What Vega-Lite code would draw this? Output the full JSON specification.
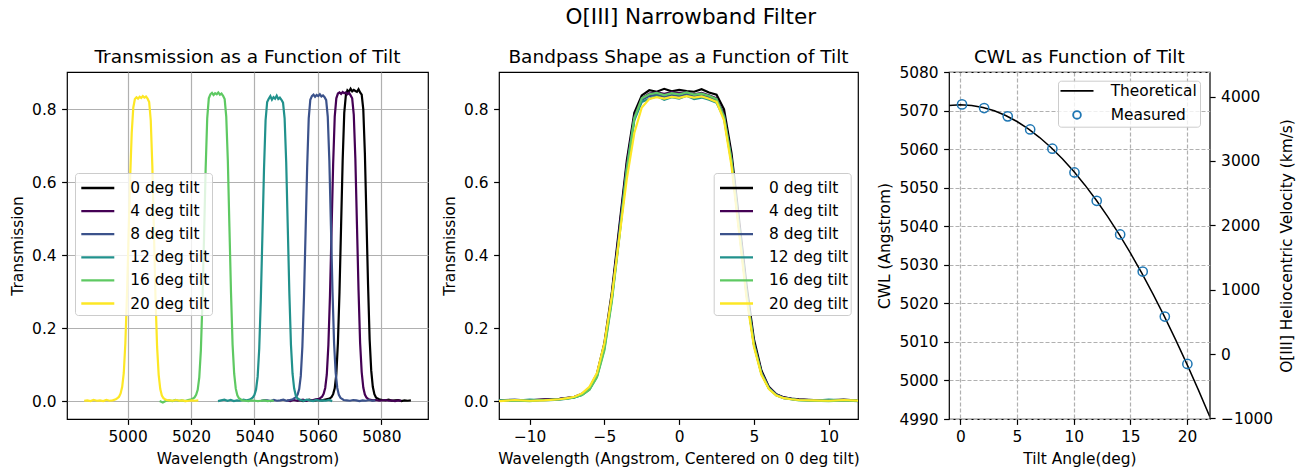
{
"$schema": "https://vega.github.io/schema/vega-lite/v6.json",
"title": {"text": "O[III] Narrowband Filter", "fontSize": 21.5, "anchor": "middle", "offset": 18, "dx": 38, "frame": "bounds"},
"padding": {"left": 10, "top": 7, "right": 5, "bottom": 3},
"bounds": "flush",
"spacing": 30,
"resolve": {"scale": {"color": "independent"}, "legend": {"color": "independent"}},
"datasets": {
"curves": [
{"s":"0 deg tilt","d":-18,"w":5053.3,"t":0.002},{"s":"0 deg tilt","d":-17,"w":5054.3,"t":0.004},{"s":"0 deg tilt","d":-16,"w":5055.3,"t":0.001},{"s":"0 deg tilt","d":-15,"w":5056.3,"t":0.003},{"s":"0 deg tilt","d":-14,"w":5057.3,"t":0.005},{"s":"0 deg tilt","d":-13,"w":5058.3,"t":0.002},{"s":"0 deg tilt","d":-12,"w":5059.3,"t":0.003},{"s":"0 deg tilt","d":-11,"w":5060.3,"t":0.004},{"s":"0 deg tilt","d":-10,"w":5061.3,"t":0.003},{"s":"0 deg tilt","d":-9,"w":5062.3,"t":0.005},{"s":"0 deg tilt","d":-8,"w":5063.3,"t":0.007},{"s":"0 deg tilt","d":-7.5,"w":5063.8,"t":0.009},{"s":"0 deg tilt","d":-7,"w":5064.3,"t":0.012},{"s":"0 deg tilt","d":-6.5,"w":5064.8,"t":0.020},{"s":"0 deg tilt","d":-6,"w":5065.3,"t":0.036},{"s":"0 deg tilt","d":-5.5,"w":5065.8,"t":0.075},{"s":"0 deg tilt","d":-5,"w":5066.3,"t":0.16},{"s":"0 deg tilt","d":-4.5,"w":5066.8,"t":0.30},{"s":"0 deg tilt","d":-4,"w":5067.3,"t":0.48},{"s":"0 deg tilt","d":-3.5,"w":5067.8,"t":0.66},{"s":"0 deg tilt","d":-3,"w":5068.3,"t":0.79},{"s":"0 deg tilt","d":-2.5,"w":5068.8,"t":0.838},{"s":"0 deg tilt","d":-2,"w":5069.3,"t":0.852},{"s":"0 deg tilt","d":-1.5,"w":5069.8,"t":0.848},{"s":"0 deg tilt","d":-1,"w":5070.3,"t":0.856},{"s":"0 deg tilt","d":-0.5,"w":5070.8,"t":0.849},{"s":"0 deg tilt","d":0,"w":5071.3,"t":0.853},{"s":"0 deg tilt","d":0.5,"w":5071.8,"t":0.850},{"s":"0 deg tilt","d":1,"w":5072.3,"t":0.848},{"s":"0 deg tilt","d":1.5,"w":5072.8,"t":0.855},{"s":"0 deg tilt","d":2,"w":5073.3,"t":0.846},{"s":"0 deg tilt","d":2.5,"w":5073.8,"t":0.840},{"s":"0 deg tilt","d":3,"w":5074.3,"t":0.80},{"s":"0 deg tilt","d":3.5,"w":5074.8,"t":0.68},{"s":"0 deg tilt","d":4,"w":5075.3,"t":0.50},{"s":"0 deg tilt","d":4.5,"w":5075.8,"t":0.32},{"s":"0 deg tilt","d":5,"w":5076.3,"t":0.17},{"s":"0 deg tilt","d":5.5,"w":5076.8,"t":0.085},{"s":"0 deg tilt","d":6,"w":5077.3,"t":0.040},{"s":"0 deg tilt","d":6.5,"w":5077.8,"t":0.020},{"s":"0 deg tilt","d":7,"w":5078.3,"t":0.011},{"s":"0 deg tilt","d":7.5,"w":5078.8,"t":0.008},{"s":"0 deg tilt","d":8,"w":5079.3,"t":0.006},{"s":"0 deg tilt","d":9,"w":5080.3,"t":0.004},{"s":"0 deg tilt","d":10,"w":5081.3,"t":0.003},{"s":"0 deg tilt","d":11,"w":5082.3,"t":0.005},{"s":"0 deg tilt","d":12,"w":5083.3,"t":0.002},{"s":"0 deg tilt","d":13,"w":5084.3,"t":0.003},{"s":"0 deg tilt","d":14,"w":5085.3,"t":0.004},{"s":"0 deg tilt","d":15,"w":5086.3,"t":0.001},{"s":"0 deg tilt","d":16,"w":5087.3,"t":0.003},{"s":"0 deg tilt","d":17,"w":5088.3,"t":0.002},{"s":"0 deg tilt","d":18,"w":5089.3,"t":0.003},
{"s":"4 deg tilt","d":-18,"w":5050.3,"t":0.003},{"s":"4 deg tilt","d":-17,"w":5051.3,"t":0.001},{"s":"4 deg tilt","d":-16,"w":5052.3,"t":0.004},{"s":"4 deg tilt","d":-15,"w":5053.3,"t":0.002},{"s":"4 deg tilt","d":-14,"w":5054.3,"t":0.003},{"s":"4 deg tilt","d":-13,"w":5055.3,"t":0.005},{"s":"4 deg tilt","d":-12,"w":5056.3,"t":0.002},{"s":"4 deg tilt","d":-11,"w":5057.3,"t":0.004},{"s":"4 deg tilt","d":-10,"w":5058.3,"t":0.003},{"s":"4 deg tilt","d":-9,"w":5059.3,"t":0.006},{"s":"4 deg tilt","d":-8,"w":5060.3,"t":0.007},{"s":"4 deg tilt","d":-7.5,"w":5060.8,"t":0.010},{"s":"4 deg tilt","d":-7,"w":5061.3,"t":0.013},{"s":"4 deg tilt","d":-6.5,"w":5061.8,"t":0.021},{"s":"4 deg tilt","d":-6,"w":5062.3,"t":0.037},{"s":"4 deg tilt","d":-5.5,"w":5062.8,"t":0.074},{"s":"4 deg tilt","d":-5,"w":5063.3,"t":0.155},{"s":"4 deg tilt","d":-4.5,"w":5063.8,"t":0.29},{"s":"4 deg tilt","d":-4,"w":5064.3,"t":0.47},{"s":"4 deg tilt","d":-3.5,"w":5064.8,"t":0.65},{"s":"4 deg tilt","d":-3,"w":5065.3,"t":0.78},{"s":"4 deg tilt","d":-2.5,"w":5065.8,"t":0.83},{"s":"4 deg tilt","d":-2,"w":5066.3,"t":0.843},{"s":"4 deg tilt","d":-1.5,"w":5066.8,"t":0.846},{"s":"4 deg tilt","d":-1,"w":5067.3,"t":0.842},{"s":"4 deg tilt","d":-0.5,"w":5067.8,"t":0.847},{"s":"4 deg tilt","d":0,"w":5068.3,"t":0.844},{"s":"4 deg tilt","d":0.5,"w":5068.8,"t":0.846},{"s":"4 deg tilt","d":1,"w":5069.3,"t":0.841},{"s":"4 deg tilt","d":1.5,"w":5069.8,"t":0.845},{"s":"4 deg tilt","d":2,"w":5070.3,"t":0.838},{"s":"4 deg tilt","d":2.5,"w":5070.8,"t":0.83},{"s":"4 deg tilt","d":3,"w":5071.3,"t":0.785},{"s":"4 deg tilt","d":3.5,"w":5071.8,"t":0.665},{"s":"4 deg tilt","d":4,"w":5072.3,"t":0.485},{"s":"4 deg tilt","d":4.5,"w":5072.8,"t":0.305},{"s":"4 deg tilt","d":5,"w":5073.3,"t":0.16},{"s":"4 deg tilt","d":5.5,"w":5073.8,"t":0.08},{"s":"4 deg tilt","d":6,"w":5074.3,"t":0.038},{"s":"4 deg tilt","d":6.5,"w":5074.8,"t":0.019},{"s":"4 deg tilt","d":7,"w":5075.3,"t":0.011},{"s":"4 deg tilt","d":7.5,"w":5075.8,"t":0.007},{"s":"4 deg tilt","d":8,"w":5076.3,"t":0.005},{"s":"4 deg tilt","d":9,"w":5077.3,"t":0.003},{"s":"4 deg tilt","d":10,"w":5078.3,"t":0.004},{"s":"4 deg tilt","d":11,"w":5079.3,"t":0.002},{"s":"4 deg tilt","d":12,"w":5080.3,"t":0.003},{"s":"4 deg tilt","d":13,"w":5081.3,"t":0.004},{"s":"4 deg tilt","d":14,"w":5082.3,"t":0.002},{"s":"4 deg tilt","d":15,"w":5083.3,"t":0.003},{"s":"4 deg tilt","d":16,"w":5084.3,"t":0.001},{"s":"4 deg tilt","d":17,"w":5085.3,"t":0.003},{"s":"4 deg tilt","d":18,"w":5086.3,"t":0.002},
{"s":"8 deg tilt","d":-18,"w":5042.1,"t":0.002},{"s":"8 deg tilt","d":-17,"w":5043.1,"t":0.004},{"s":"8 deg tilt","d":-16,"w":5044.1,"t":0.003},{"s":"8 deg tilt","d":-15,"w":5045.1,"t":0.001},{"s":"8 deg tilt","d":-14,"w":5046.1,"t":0.004},{"s":"8 deg tilt","d":-13,"w":5047.1,"t":0.002},{"s":"8 deg tilt","d":-12,"w":5048.1,"t":0.003},{"s":"8 deg tilt","d":-11,"w":5049.1,"t":0.005},{"s":"8 deg tilt","d":-10,"w":5050.1,"t":0.002},{"s":"8 deg tilt","d":-9,"w":5051.1,"t":0.004},{"s":"8 deg tilt","d":-8,"w":5052.1,"t":0.006},{"s":"8 deg tilt","d":-7.5,"w":5052.6,"t":0.009},{"s":"8 deg tilt","d":-7,"w":5053.1,"t":0.012},{"s":"8 deg tilt","d":-6.5,"w":5053.6,"t":0.019},{"s":"8 deg tilt","d":-6,"w":5054.1,"t":0.034},{"s":"8 deg tilt","d":-5.5,"w":5054.6,"t":0.07},{"s":"8 deg tilt","d":-5,"w":5055.1,"t":0.15},{"s":"8 deg tilt","d":-4.5,"w":5055.6,"t":0.285},{"s":"8 deg tilt","d":-4,"w":5056.1,"t":0.46},{"s":"8 deg tilt","d":-3.5,"w":5056.6,"t":0.64},{"s":"8 deg tilt","d":-3,"w":5057.1,"t":0.775},{"s":"8 deg tilt","d":-2.5,"w":5057.6,"t":0.826},{"s":"8 deg tilt","d":-2,"w":5058.1,"t":0.836},{"s":"8 deg tilt","d":-1.5,"w":5058.6,"t":0.840},{"s":"8 deg tilt","d":-1,"w":5059.1,"t":0.834},{"s":"8 deg tilt","d":-0.5,"w":5059.6,"t":0.839},{"s":"8 deg tilt","d":0,"w":5060.1,"t":0.836},{"s":"8 deg tilt","d":0.5,"w":5060.6,"t":0.841},{"s":"8 deg tilt","d":1,"w":5061.1,"t":0.835},{"s":"8 deg tilt","d":1.5,"w":5061.6,"t":0.838},{"s":"8 deg tilt","d":2,"w":5062.1,"t":0.833},{"s":"8 deg tilt","d":2.5,"w":5062.6,"t":0.825},{"s":"8 deg tilt","d":3,"w":5063.1,"t":0.78},{"s":"8 deg tilt","d":3.5,"w":5063.6,"t":0.66},{"s":"8 deg tilt","d":4,"w":5064.1,"t":0.48},{"s":"8 deg tilt","d":4.5,"w":5064.6,"t":0.30},{"s":"8 deg tilt","d":5,"w":5065.1,"t":0.158},{"s":"8 deg tilt","d":5.5,"w":5065.6,"t":0.078},{"s":"8 deg tilt","d":6,"w":5066.1,"t":0.037},{"s":"8 deg tilt","d":6.5,"w":5066.6,"t":0.018},{"s":"8 deg tilt","d":7,"w":5067.1,"t":0.010},{"s":"8 deg tilt","d":7.5,"w":5067.6,"t":0.007},{"s":"8 deg tilt","d":8,"w":5068.1,"t":0.004},{"s":"8 deg tilt","d":9,"w":5069.1,"t":0.003},{"s":"8 deg tilt","d":10,"w":5070.1,"t":0.002},{"s":"8 deg tilt","d":11,"w":5071.1,"t":0.004},{"s":"8 deg tilt","d":12,"w":5072.1,"t":0.003},{"s":"8 deg tilt","d":13,"w":5073.1,"t":0.001},{"s":"8 deg tilt","d":14,"w":5074.1,"t":0.003},{"s":"8 deg tilt","d":15,"w":5075.1,"t":0.002},{"s":"8 deg tilt","d":16,"w":5076.1,"t":0.004},{"s":"8 deg tilt","d":17,"w":5077.1,"t":0.002},{"s":"8 deg tilt","d":18,"w":5078.1,"t":0.003},
{"s":"12 deg tilt","d":-18,"w":5028.5,"t":0.001},{"s":"12 deg tilt","d":-17,"w":5029.5,"t":0.003},{"s":"12 deg tilt","d":-16,"w":5030.5,"t":0.005},{"s":"12 deg tilt","d":-15,"w":5031.5,"t":0.002},{"s":"12 deg tilt","d":-14,"w":5032.5,"t":0.004},{"s":"12 deg tilt","d":-13,"w":5033.5,"t":0.001},{"s":"12 deg tilt","d":-12,"w":5034.5,"t":0.003},{"s":"12 deg tilt","d":-11,"w":5035.5,"t":0.002},{"s":"12 deg tilt","d":-10,"w":5036.5,"t":0.005},{"s":"12 deg tilt","d":-9,"w":5037.5,"t":0.003},{"s":"12 deg tilt","d":-8,"w":5038.5,"t":0.005},{"s":"12 deg tilt","d":-7.5,"w":5039,"t":0.008},{"s":"12 deg tilt","d":-7,"w":5039.5,"t":0.011},{"s":"12 deg tilt","d":-6.5,"w":5040,"t":0.018},{"s":"12 deg tilt","d":-6,"w":5040.5,"t":0.033},{"s":"12 deg tilt","d":-5.5,"w":5041,"t":0.068},{"s":"12 deg tilt","d":-5,"w":5041.5,"t":0.145},{"s":"12 deg tilt","d":-4.5,"w":5042,"t":0.28},{"s":"12 deg tilt","d":-4,"w":5042.5,"t":0.455},{"s":"12 deg tilt","d":-3.5,"w":5043,"t":0.635},{"s":"12 deg tilt","d":-3,"w":5043.5,"t":0.77},{"s":"12 deg tilt","d":-2.5,"w":5044,"t":0.82},{"s":"12 deg tilt","d":-2,"w":5044.5,"t":0.829},{"s":"12 deg tilt","d":-1.5,"w":5045,"t":0.836},{"s":"12 deg tilt","d":-1,"w":5045.5,"t":0.826},{"s":"12 deg tilt","d":-0.5,"w":5046,"t":0.833},{"s":"12 deg tilt","d":0,"w":5046.5,"t":0.829},{"s":"12 deg tilt","d":0.5,"w":5047,"t":0.837},{"s":"12 deg tilt","d":1,"w":5047.5,"t":0.828},{"s":"12 deg tilt","d":1.5,"w":5048,"t":0.832},{"s":"12 deg tilt","d":2,"w":5048.5,"t":0.826},{"s":"12 deg tilt","d":2.5,"w":5049,"t":0.818},{"s":"12 deg tilt","d":3,"w":5049.5,"t":0.775},{"s":"12 deg tilt","d":3.5,"w":5050,"t":0.655},{"s":"12 deg tilt","d":4,"w":5050.5,"t":0.475},{"s":"12 deg tilt","d":4.5,"w":5051,"t":0.295},{"s":"12 deg tilt","d":5,"w":5051.5,"t":0.155},{"s":"12 deg tilt","d":5.5,"w":5052,"t":0.076},{"s":"12 deg tilt","d":6,"w":5052.5,"t":0.036},{"s":"12 deg tilt","d":6.5,"w":5053,"t":0.017},{"s":"12 deg tilt","d":7,"w":5053.5,"t":0.009},{"s":"12 deg tilt","d":7.5,"w":5054,"t":0.006},{"s":"12 deg tilt","d":8,"w":5054.5,"t":0.004},{"s":"12 deg tilt","d":9,"w":5055.5,"t":0.002},{"s":"12 deg tilt","d":10,"w":5056.5,"t":0.005},{"s":"12 deg tilt","d":11,"w":5057.5,"t":0.003},{"s":"12 deg tilt","d":12,"w":5058.5,"t":0.001},{"s":"12 deg tilt","d":13,"w":5059.5,"t":0.004},{"s":"12 deg tilt","d":14,"w":5060.5,"t":0.002},{"s":"12 deg tilt","d":15,"w":5061.5,"t":0.003},{"s":"12 deg tilt","d":16,"w":5062.5,"t":0.002},{"s":"12 deg tilt","d":17,"w":5063.5,"t":0.004},{"s":"12 deg tilt","d":18,"w":5064.5,"t":0.001},
{"s":"16 deg tilt","d":-18,"w":5010.1,"t":0.001},{"s":"16 deg tilt","d":-17,"w":5011.1,"t":-0.003},{"s":"16 deg tilt","d":-16,"w":5012.1,"t":0.002},{"s":"16 deg tilt","d":-15,"w":5013.1,"t":0.003},{"s":"16 deg tilt","d":-14,"w":5014.1,"t":0.001},{"s":"16 deg tilt","d":-13,"w":5015.1,"t":0.004},{"s":"16 deg tilt","d":-12,"w":5016.1,"t":0.002},{"s":"16 deg tilt","d":-11,"w":5017.1,"t":0.003},{"s":"16 deg tilt","d":-10,"w":5018.1,"t":0.001},{"s":"16 deg tilt","d":-9,"w":5019.1,"t":0.004},{"s":"16 deg tilt","d":-8,"w":5020.1,"t":0.006},{"s":"16 deg tilt","d":-7.5,"w":5020.6,"t":0.008},{"s":"16 deg tilt","d":-7,"w":5021.1,"t":0.011},{"s":"16 deg tilt","d":-6.5,"w":5021.6,"t":0.018},{"s":"16 deg tilt","d":-6,"w":5022.1,"t":0.032},{"s":"16 deg tilt","d":-5.5,"w":5022.6,"t":0.066},{"s":"16 deg tilt","d":-5,"w":5023.1,"t":0.14},{"s":"16 deg tilt","d":-4.5,"w":5023.6,"t":0.275},{"s":"16 deg tilt","d":-4,"w":5024.1,"t":0.45},{"s":"16 deg tilt","d":-3.5,"w":5024.6,"t":0.635},{"s":"16 deg tilt","d":-3,"w":5025.1,"t":0.775},{"s":"16 deg tilt","d":-2.5,"w":5025.6,"t":0.83},{"s":"16 deg tilt","d":-2,"w":5026.1,"t":0.841},{"s":"16 deg tilt","d":-1.5,"w":5026.6,"t":0.845},{"s":"16 deg tilt","d":-1,"w":5027.1,"t":0.839},{"s":"16 deg tilt","d":-0.5,"w":5027.6,"t":0.844},{"s":"16 deg tilt","d":0,"w":5028.1,"t":0.841},{"s":"16 deg tilt","d":0.5,"w":5028.6,"t":0.846},{"s":"16 deg tilt","d":1,"w":5029.1,"t":0.840},{"s":"16 deg tilt","d":1.5,"w":5029.6,"t":0.843},{"s":"16 deg tilt","d":2,"w":5030.1,"t":0.837},{"s":"16 deg tilt","d":2.5,"w":5030.6,"t":0.828},{"s":"16 deg tilt","d":3,"w":5031.1,"t":0.78},{"s":"16 deg tilt","d":3.5,"w":5031.6,"t":0.66},{"s":"16 deg tilt","d":4,"w":5032.1,"t":0.478},{"s":"16 deg tilt","d":4.5,"w":5032.6,"t":0.298},{"s":"16 deg tilt","d":5,"w":5033.1,"t":0.155},{"s":"16 deg tilt","d":5.5,"w":5033.6,"t":0.076},{"s":"16 deg tilt","d":6,"w":5034.1,"t":0.035},{"s":"16 deg tilt","d":6.5,"w":5034.6,"t":0.017},{"s":"16 deg tilt","d":7,"w":5035.1,"t":0.009},{"s":"16 deg tilt","d":7.5,"w":5035.6,"t":0.006},{"s":"16 deg tilt","d":8,"w":5036.1,"t":0.003},{"s":"16 deg tilt","d":9,"w":5037.1,"t":0.002},{"s":"16 deg tilt","d":10,"w":5038.1,"t":0.001},{"s":"16 deg tilt","d":11,"w":5039.1,"t":0.003},{"s":"16 deg tilt","d":12,"w":5040.1,"t":0.002},{"s":"16 deg tilt","d":13,"w":5041.1,"t":0.001},{"s":"16 deg tilt","d":14,"w":5042.1,"t":0.002},{"s":"16 deg tilt","d":15,"w":5043.1,"t":0.003},{"s":"16 deg tilt","d":16,"w":5044.1,"t":0.001},{"s":"16 deg tilt","d":17,"w":5045.1,"t":0.002},{"s":"16 deg tilt","d":18,"w":5046.1,"t":0.002},
{"s":"20 deg tilt","d":-18,"w":4986.3,"t":0.002},{"s":"20 deg tilt","d":-17,"w":4987.3,"t":0.003},{"s":"20 deg tilt","d":-16,"w":4988.3,"t":0.001},{"s":"20 deg tilt","d":-15,"w":4989.3,"t":0.004},{"s":"20 deg tilt","d":-14,"w":4990.3,"t":0.002},{"s":"20 deg tilt","d":-13,"w":4991.3,"t":0.003},{"s":"20 deg tilt","d":-12,"w":4992.3,"t":0.001},{"s":"20 deg tilt","d":-11,"w":4993.3,"t":0.004},{"s":"20 deg tilt","d":-10,"w":4994.3,"t":0.002},{"s":"20 deg tilt","d":-9,"w":4995.3,"t":0.003},{"s":"20 deg tilt","d":-8,"w":4996.3,"t":0.006},{"s":"20 deg tilt","d":-7.5,"w":4996.8,"t":0.009},{"s":"20 deg tilt","d":-7,"w":4997.3,"t":0.013},{"s":"20 deg tilt","d":-6.5,"w":4997.8,"t":0.022},{"s":"20 deg tilt","d":-6,"w":4998.3,"t":0.04},{"s":"20 deg tilt","d":-5.5,"w":4998.8,"t":0.078},{"s":"20 deg tilt","d":-5,"w":4999.3,"t":0.16},{"s":"20 deg tilt","d":-4.5,"w":4999.8,"t":0.29},{"s":"20 deg tilt","d":-4,"w":5000.3,"t":0.45},{"s":"20 deg tilt","d":-3.5,"w":5000.8,"t":0.61},{"s":"20 deg tilt","d":-3,"w":5001.3,"t":0.735},{"s":"20 deg tilt","d":-2.5,"w":5001.8,"t":0.805},{"s":"20 deg tilt","d":-2,"w":5002.3,"t":0.828},{"s":"20 deg tilt","d":-1.5,"w":5002.8,"t":0.833},{"s":"20 deg tilt","d":-1,"w":5003.3,"t":0.829},{"s":"20 deg tilt","d":-0.5,"w":5003.8,"t":0.834},{"s":"20 deg tilt","d":0,"w":5004.3,"t":0.831},{"s":"20 deg tilt","d":0.5,"w":5004.8,"t":0.836},{"s":"20 deg tilt","d":1,"w":5005.3,"t":0.832},{"s":"20 deg tilt","d":1.5,"w":5005.8,"t":0.835},{"s":"20 deg tilt","d":2,"w":5006.3,"t":0.829},{"s":"20 deg tilt","d":2.5,"w":5006.8,"t":0.82},{"s":"20 deg tilt","d":3,"w":5007.3,"t":0.77},{"s":"20 deg tilt","d":3.5,"w":5007.8,"t":0.645},{"s":"20 deg tilt","d":4,"w":5008.3,"t":0.465},{"s":"20 deg tilt","d":4.5,"w":5008.8,"t":0.285},{"s":"20 deg tilt","d":5,"w":5009.3,"t":0.15},{"s":"20 deg tilt","d":5.5,"w":5009.8,"t":0.073},{"s":"20 deg tilt","d":6,"w":5010.3,"t":0.034},{"s":"20 deg tilt","d":6.5,"w":5010.8,"t":0.016},{"s":"20 deg tilt","d":7,"w":5011.3,"t":0.009},{"s":"20 deg tilt","d":7.5,"w":5011.8,"t":0.006},{"s":"20 deg tilt","d":8,"w":5012.3,"t":0.004},{"s":"20 deg tilt","d":9,"w":5013.3,"t":0.003},{"s":"20 deg tilt","d":10,"w":5014.3,"t":0.002},{"s":"20 deg tilt","d":11,"w":5015.3,"t":0.004},{"s":"20 deg tilt","d":12,"w":5016.3,"t":0.002},{"s":"20 deg tilt","d":13,"w":5017.3,"t":0.003},{"s":"20 deg tilt","d":14,"w":5018.3,"t":0.001},{"s":"20 deg tilt","d":15,"w":5019.3,"t":0.002},{"s":"20 deg tilt","d":16,"w":5020.3,"t":0.003},{"s":"20 deg tilt","d":17,"w":5021.3,"t":0.002},{"s":"20 deg tilt","d":18,"w":5022.3,"t":0.003}
],
"theo": [
{"k":"Theoretical","a":-1,"c":5071.33},{"k":"Theoretical","a":0,"c":5071.5},{"k":"Theoretical","a":1,"c":5071.33},{"k":"Theoretical","a":2,"c":5070.8},{"k":"Theoretical","a":3,"c":5069.93},{"k":"Theoretical","a":4,"c":5068.72},{"k":"Theoretical","a":5,"c":5067.16},{"k":"Theoretical","a":6,"c":5065.25},{"k":"Theoretical","a":7,"c":5063.0},{"k":"Theoretical","a":8,"c":5060.42},{"k":"Theoretical","a":9,"c":5057.49},{"k":"Theoretical","a":10,"c":5054.23},{"k":"Theoretical","a":11,"c":5050.65},{"k":"Theoretical","a":12,"c":5046.73},{"k":"Theoretical","a":13,"c":5042.49},{"k":"Theoretical","a":14,"c":5037.93},{"k":"Theoretical","a":15,"c":5033.06},{"k":"Theoretical","a":16,"c":5027.89},{"k":"Theoretical","a":17,"c":5022.4},{"k":"Theoretical","a":18,"c":5016.62},{"k":"Theoretical","a":19,"c":5010.54},{"k":"Theoretical","a":20,"c":5004.18},{"k":"Theoretical","a":21,"c":4997.55},{"k":"Theoretical","a":22,"c":4990.64}
],
"meas": [
{"k":"Measured","a":0.15,"c":5071.6,"v":3877.6},{"k":"Measured","a":2.1,"c":5070.65,"v":3820.8},{"k":"Measured","a":4.18,"c":5068.5,"v":3692.0},{"k":"Measured","a":6.16,"c":5065.1,"v":3488.4},{"k":"Measured","a":8.12,"c":5060.1,"v":3189.0},{"k":"Measured","a":10.07,"c":5053.95,"v":2820.8},{"k":"Measured","a":12.03,"c":5046.6,"v":2380.7},{"k":"Measured","a":14.1,"c":5037.86,"v":1857.4},{"k":"Measured","a":16.09,"c":5028.25,"v":1282.0},{"k":"Measured","a":18.04,"c":5016.57,"v":582.6},{"k":"Measured","a":20.03,"c":5004.28,"v":-153.3}
]
},
"hconcat": [
{
 "width": 361, "height": 347,
 "title": "Transmission as a Function of Tilt",
 "data": {"name": "curves"},
 "mark": {"type": "line", "strokeWidth": 2.2, "clip": true},
 "encoding": {
  "x": {"field": "w", "type": "quantitative", "scale": {"domain": [4980.9, 5094.7], "nice": false, "zero": false}, "axis": {"values": [5000, 5020, 5040, 5060, 5080], "format": "d", "title": "Wavelength (Angstrom)", "grid": true}},
  "y": {"field": "t", "type": "quantitative", "scale": {"domain": [-0.048, 0.902], "nice": false, "zero": false}, "axis": {"values": [0, 0.2, 0.4, 0.6, 0.8], "format": ".1f", "title": "Transmission", "grid": true}},
  "color": {"field": "s", "type": "nominal", "sort": null, "scale": {"domain": ["0 deg tilt", "4 deg tilt", "8 deg tilt", "12 deg tilt", "16 deg tilt", "20 deg tilt"], "range": ["#000000", "#440154", "#3b528b", "#21918c", "#5ec962", "#fde725"]}, "legend": {"orient": "none", "legendX": 8, "legendY": 101, "title": null, "direction": "vertical", "rowPadding": 2.1, "symbolOffset": 7.8, "labelOffset": 20}}
 }
},
{"width": 10.3, "height": 347, "view": {"stroke": null}, "data": {"values": [{"z": 0}]}, "mark": {"type": "point", "opacity": 0}, "encoding": {}},
{
 "width": 359, "height": 347,
 "title": "Bandpass Shape as a Function of Tilt",
 "data": {"name": "curves"},
 "mark": {"type": "line", "strokeWidth": 2.2, "clip": true},
 "encoding": {
  "x": {"field": "d", "type": "quantitative", "scale": {"domain": [-12.05, 11.96], "nice": false, "zero": false}, "axis": {"values": [-10, -5, 0, 5, 10], "format": "d", "title": "Wavelength (Angstrom, Centered on 0 deg tilt)"}},
  "y": {"field": "t", "type": "quantitative", "scale": {"domain": [-0.048, 0.902], "nice": false, "zero": false}, "axis": {"values": [0, 0.2, 0.4, 0.6, 0.8], "format": ".1f", "title": "Transmission"}},
  "color": {"field": "s", "type": "nominal", "sort": null, "scale": {"domain": ["0 deg tilt", "4 deg tilt", "8 deg tilt", "12 deg tilt", "16 deg tilt", "20 deg tilt"], "range": ["#000000", "#440154", "#3b528b", "#21918c", "#5ec962", "#fde725"]}, "legend": {"orient": "none", "legendX": 214.7, "legendY": 101, "title": null, "direction": "vertical", "rowPadding": 2.1, "symbolOffset": 7.8, "labelOffset": 20}}
 }
},
{"width": 31, "height": 347, "view": {"stroke": null}, "data": {"values": [{"z": 0}]}, "mark": {"type": "point", "opacity": 0}, "encoding": {}},
{
 "width": 260.7, "height": 347,
 "title": {"text": "CWL as Function of Tilt", "offset": -1},
 "layer": [
  {
   "layer": [
    {
     "data": {"name": "theo"},
     "mark": {"type": "line", "strokeWidth": 1.5, "clip": true},
     "encoding": {
      "x": {"field": "a", "type": "quantitative", "scale": {"domain": [-1, 22], "nice": false, "zero": false}, "axis": {"values": [0, 5, 10, 15, 20], "tickCount": 12, "format": "d", "title": "Tilt Angle(deg)", "grid": true, "gridDash": [4, 2]}},
      "y": {"field": "c", "type": "quantitative", "scale": {"domain": [4990, 5080], "nice": false, "zero": false}, "axis": {"values": [4990, 5000, 5010, 5020, 5030, 5040, 5050, 5060, 5070, 5080], "tickCount": 12, "format": "d", "title": "CWL (Angstrom)", "grid": true, "gridDash": [4, 2]}},
      "color": {"field": "k", "type": "nominal", "sort": null, "scale": {"domain": ["Theoretical", "Measured"], "range": ["#000000", "#1f77b4"]},
       "legend": {"orient": "none", "legendX": 109, "legendY": 8.7, "title": null, "direction": "vertical", "symbolSize": 484, "symbolType": "M-1.5,0H1.5", "rowPadding": 7, "symbolOffset": 8.8, "labelOffset": 26,
        "encode": {"symbols": {"update": {
          "shape": {"signal": "datum.value === 'Theoretical' ? 'M-1.5,0H1.5' : 'circle'"},
          "size": {"signal": "datum.value === 'Theoretical' ? 484 : 60"},
          "stroke": {"signal": "datum.value === 'Theoretical' ? '#000000' : '#1f77b4'"},
          "fill": {"value": "transparent"},
          "strokeWidth": {"signal": "datum.value === 'Theoretical' ? 1.6 : 1.8"},
          "opacity": {"value": 1}
        }}}}}
     }
    },
    {
     "data": {"name": "meas"},
     "mark": {"type": "point", "filled": false, "size": 85, "strokeWidth": 1.5, "opacity": 1},
     "encoding": {
      "x": {"field": "a", "type": "quantitative"},
      "y": {"field": "c", "type": "quantitative"},
      "color": {"field": "k", "type": "nominal"}
     }
    }
   ]
  },
  {
   "data": {"name": "meas"},
   "mark": {"type": "point", "opacity": 0},
   "encoding": {
    "x": {"field": "a", "type": "quantitative"},
    "y": {"field": "v", "type": "quantitative", "scale": {"domain": [-1008.3, 4380.6], "nice": false, "zero": false}, "axis": {"orient": "right", "values": [-1000, 0, 1000, 2000, 3000, 4000], "format": "d", "title": "O[III] Heliocentric Velocity (km/s)", "titleAngle": 270, "titlePadding": 22, "grid": false}}
   }
  }
 ],
 "resolve": {"scale": {"y": "independent"}}
}
],
"config": {
 "font": "DejaVu Sans",
 "view": {"stroke": "#000000", "strokeWidth": 1.2},
 "axis": {"domain": false, "labelFont": "DejaVu Sans", "labelFontSize": 15.4, "labelColor": "#000000", "titleFont": "DejaVu Sans", "titleFontSize": 15.4, "titleFontWeight": "normal", "titleColor": "#000000", "tickColor": "#000000", "tickSize": 5.4, "tickWidth": 1.2, "labelPadding": 5.5, "titlePadding": 6, "gridColor": "#b0b0b0", "gridWidth": 1.2, "grid": false, "labelFlush": false, "labelOverlap": false},
 "title": {"font": "DejaVu Sans", "fontSize": 18.5, "fontWeight": "normal", "color": "#000000", "offset": 6},
 "legend": {"labelFont": "DejaVu Sans", "labelFontSize": 15.4, "labelColor": "#000000", "labelLimit": 0, "fillColor": "rgba(255,255,255,0.8)", "strokeColor": "#cccccc", "strokeWidth": 1, "cornerRadius": 3, "padding": 2.5, "rowPadding": 1.3, "symbolType": "M-1.5,0H1.5", "symbolSize": 484, "symbolStrokeWidth": 2.3, "symbolOffset": 8.8, "labelOffset": 26}
}
}
